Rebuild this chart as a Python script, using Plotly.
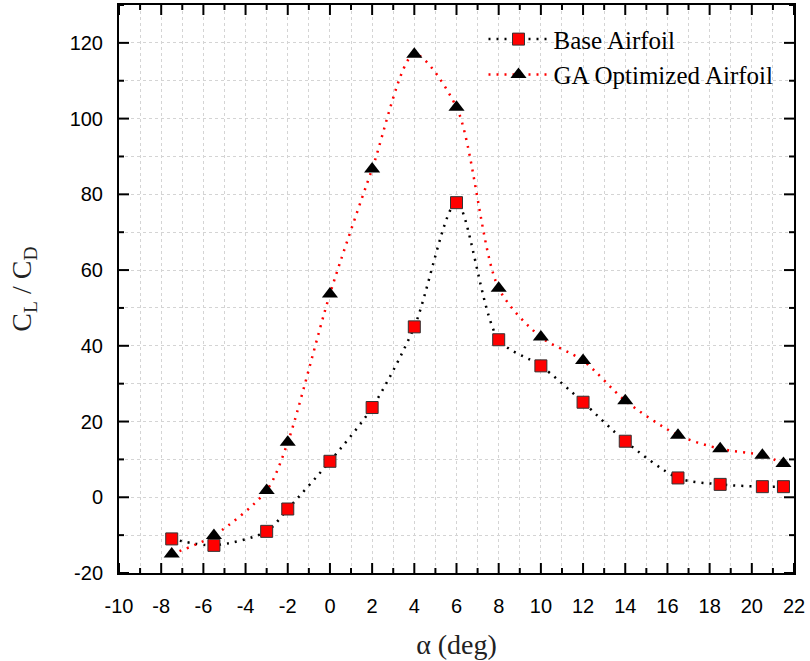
import plotly.graph_objects as go

# Angle of attack (deg)
alpha = [-7.5, -5.5, -3, -2, 0, 2, 4, 6, 8, 10, 12, 14, 16.5, 18.5, 20.5, 21.5]

# Lift-to-drag ratios
base_cl_cd = [-11.0, -12.7, -9.0, -3.1, 9.5, 23.7, 45.0, 77.8, 41.6, 34.7, 25.1, 14.8, 5.1, 3.4, 2.8, 2.8]
ga_cl_cd = [-15.0, -10.1, 1.8, 14.5, 53.7, 86.7, 117.0, 103.0, 55.2, 42.3, 36.1, 25.5, 16.4, 12.8, 11.1, 8.9]

x_ticks = list(range(-10, 23, 2))
y_ticks = list(range(-20, 121, 20))
x_minor = list(range(-9, 22, 2))
y_minor = list(range(-10, 131, 20))
x_labels = [str(v) for v in x_ticks]
y_labels = [str(v) for v in y_ticks]

fig = go.Figure()

fig.add_trace(go.Scatter(
    x=alpha, y=base_cl_cd, name="Base Airfoil",
    mode="lines+markers",
    line=dict(color="black", dash="2px,6px", width=2.5, shape="spline", smoothing=0.8),
    marker=dict(symbol="square", size=12, color="#ff0000", line=dict(color="#333333", width=1)),
))

fig.add_trace(go.Scatter(
    x=alpha, y=ga_cl_cd, name="GA Optimized Airfoil",
    mode="lines+markers",
    line=dict(color="#ff0000", dash="2px,6px", width=2.5, shape="spline", smoothing=0.8),
    marker=dict(symbol="triangle-up", size=14, color="black", line=dict(color="black", width=0)),
))

grid_style = dict(showgrid=True, gridcolor="#d4d4d4", griddash="dot", gridwidth=1)

fig.update_xaxes(
    showline=True, linecolor="black", linewidth=2, mirror=True,
    ticks="", zeroline=False, automargin=False, **grid_style,
    minor=dict(dtick=1, **grid_style),
    tickfont=dict(family="Liberation Sans, Arial", size=20, color="black"),
    range=[-10, 22], tickvals=x_ticks, ticktext=x_labels,
    ticklabelstandoff=14,
    title=dict(text="α (deg)", font=dict(family="Liberation Serif, Times New Roman", size=28, color="#222"), standoff=18),
)
fig.update_yaxes(
    showline=True, linecolor="black", linewidth=2, mirror=True,
    ticks="", zeroline=False, automargin=False, **grid_style,
    minor=dict(dtick=10, **grid_style),
    tickfont=dict(family="Liberation Sans, Arial", size=20, color="black"),
    range=[-20, 130], tickvals=y_ticks, ticktext=y_labels,
    ticklabelstandoff=10,
    title=dict(text="C<sub>L</sub> / C<sub>D</sub>", font=dict(family="Liberation Serif, Times New Roman", size=28, color="#222"), standoff=30),
)

# Inward-pointing tick marks on all four sides of the frame
tick_line = dict(color="black", width=2)
for vals, length in ((x_ticks, 10), (x_minor, 5)):
    for v in vals:
        fig.add_shape(type="line", xref="x", yref="paper", ysizemode="pixel", yanchor=0,
                      x0=v, x1=v, y0=0, y1=length, line=tick_line, layer="above")
        fig.add_shape(type="line", xref="x", yref="paper", ysizemode="pixel", yanchor=1,
                      x0=v, x1=v, y0=0, y1=-length, line=tick_line, layer="above")
for vals, length in ((y_ticks, 10), (y_minor, 5)):
    for v in vals:
        fig.add_shape(type="line", yref="y", xref="paper", xsizemode="pixel", xanchor=0,
                      y0=v, y1=v, x0=0, x1=length, line=tick_line, layer="above")
        fig.add_shape(type="line", yref="y", xref="paper", xsizemode="pixel", xanchor=1,
                      y0=v, y1=v, x0=0, x1=-length, line=tick_line, layer="above")

fig.update_layout(
    width=810, height=661,
    margin=dict(l=119, r=16, t=5, b=88),
    paper_bgcolor="white", plot_bgcolor="white",
    showlegend=True,
    legend=dict(
        x=0.54, y=0.98, xanchor="left", yanchor="top",
        font=dict(family="Liberation Serif, Times New Roman", size=25, color="black"),
        bgcolor="rgba(0,0,0,0)", itemwidth=60, tracegroupgap=0,
    ),
)

fig.write_html("out.html")
